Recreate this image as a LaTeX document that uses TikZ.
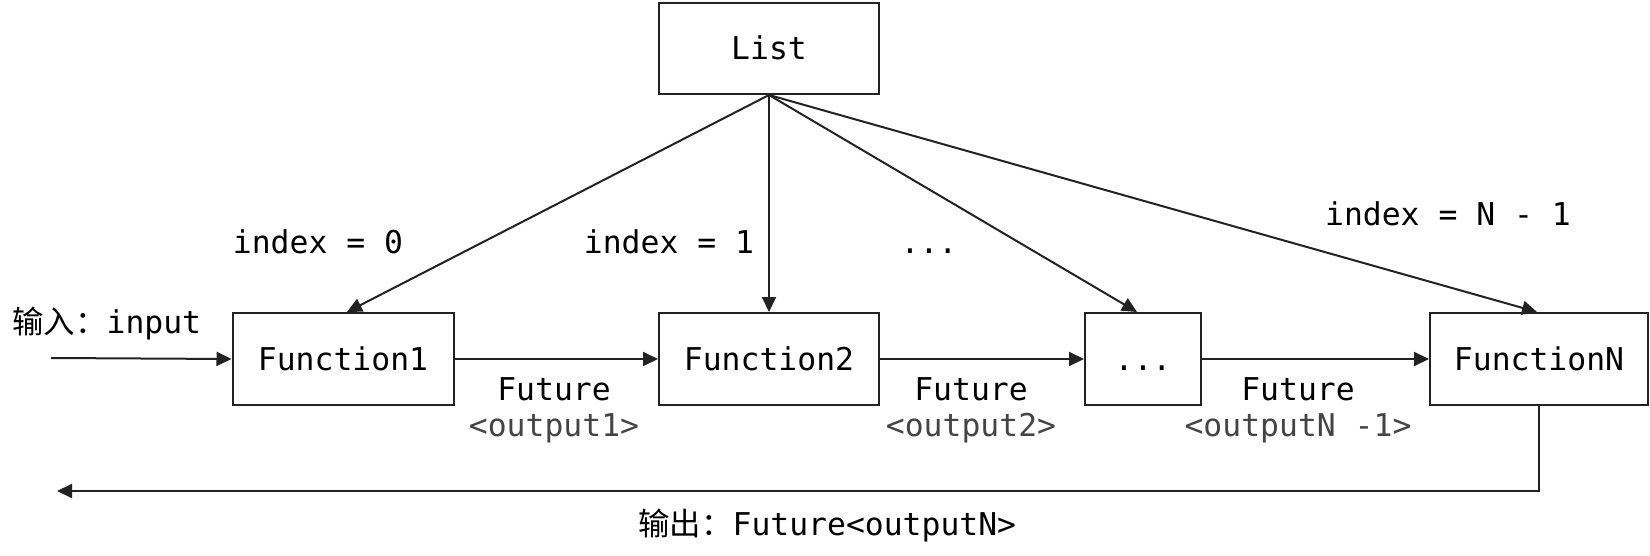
\documentclass[tikz,border=0pt]{standalone}
\usepackage{fontspec}
\setmainfont{DejaVu Sans Mono}
\newfontfamily\cjk{Noto Sans CJK SC}
\usetikzlibrary{arrows.meta}
\definecolor{linec}{HTML}{222222}
\definecolor{graytext}{HTML}{444444}
\tikzset{
  box/.style={draw=linec, line width=1pt, rectangle, inner sep=0pt,
    minimum height=46pt, text height=11.4pt, text depth=0pt},
  arr/.style={draw=linec, line width=1pt, -{Triangle[length=7.5pt,width=7pt]}},
  lbl/.style={inner sep=0pt, anchor=base},
  glbl/.style={inner sep=0pt, anchor=base, text=graytext}
}
\begin{document}
\begin{tikzpicture}[x=0.5pt,y=-0.5pt,font=\fontsize{15.7}{18.8}\selectfont]
\useasboundingbox (0,0) rectangle (1650,556);
% boxes
\node[box, minimum width=110pt, minimum height=45.5pt] (list) at (769,48.5) {List};
\node[box, minimum width=110.5pt] (f1) at (343,359) {Function1};
\node[box, minimum width=110pt] (f2) at (769,359) {Function2};
\node[box, minimum width=58pt] (dots) at (1143,359) {...};
\node[box, minimum width=109pt] (fn) at (1539,359) {FunctionN};
% connectors from list
\draw[arr] (list.south) -- ([xshift=2pt]f1.north);
\draw[arr] (list.south) -- (f2.north);
\draw[arr] (list.south) -- ([xshift=-3pt]dots.north);
\draw[arr] (list.south) -- ([xshift=-1pt]fn.north);
% chain
\coordinate (inp) at (51,358);
\coordinate (outend) at (57,491);
\draw[arr] (inp) -- (f1.west);
\draw[arr] (f1.east) -- (f2.west);
\draw[arr] (f2.east) -- (dots.west);
\draw[arr] (dots.east) -- (fn.west);
\draw[arr] (fn.south) |- (outend);
% labels
\node[lbl] (idx0) at (318,253) {index = 0};
\node[lbl] (idx1) at (669,253) {index = 1};
\node[lbl] (idxd) at (929,253) {...};
\node[lbl] (idxn) at (1448,226) {index = N - 1};
\node[lbl, anchor=base west] (inlbl) at (12,333) {{\cjk 输入：}input};
\node[lbl] (fut1) at (554,400) {Future};
\node[glbl] (out1) at (554,436) {<output1>};
\node[lbl] (fut2) at (971,400) {Future};
\node[glbl] (out2) at (971,436) {<output2>};
\node[lbl] (fut3) at (1298,400) {Future};
\node[glbl] (out3) at (1298,436) {<outputN -1>};
\node[lbl, anchor=base west] (outlbl) at (638,535) {{\cjk 输出：}Future<outputN>};
\end{tikzpicture}
\end{document}
